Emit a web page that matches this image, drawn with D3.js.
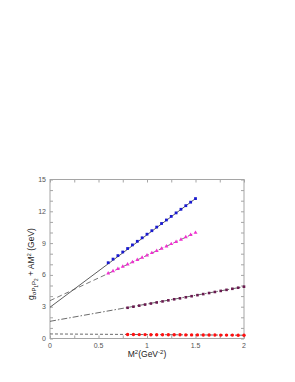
<!DOCTYPE html>
<html>
<head>
<meta charset="utf-8">
<script src="https://cdn.jsdelivr.net/npm/d3@7"></script>
<style>
  body { margin: 0; background: #fff; }
  text { font-family: "Liberation Sans", Arial, sans-serif; }
</style>
</head>
<body>
<div id="chart"></div>
<script>
// data
var xBlue = [0.6, 0.65, 0.7, 0.75, 0.8, 0.85, 0.9, 0.95, 1.0, 1.05, 1.1, 1.15, 1.2, 1.25, 1.3, 1.35, 1.4, 1.45, 1.5];
var yBlue = [7.15, 7.49, 7.82, 8.16, 8.49, 8.83, 9.17, 9.50, 9.84, 10.17, 10.51, 10.85, 11.18, 11.52, 11.85, 12.19, 12.53, 12.86, 13.2];
var yPink = [6.15, 6.36, 6.58, 6.79, 7.00, 7.21, 7.43, 7.64, 7.85, 8.07, 8.28, 8.49, 8.70, 8.92, 9.13, 9.34, 9.56, 9.77, 9.98];

var xLow = [0.8, 0.86, 0.92, 0.98, 1.04, 1.1, 1.16, 1.22, 1.28, 1.34, 1.4, 1.46, 1.52, 1.58, 1.64, 1.7, 1.76, 1.82, 1.88, 1.94, 2.0];
var yPurple = [2.90, 3.00, 3.10, 3.20, 3.30, 3.40, 3.50, 3.60, 3.70, 3.79, 3.89, 3.99, 4.09, 4.19, 4.29, 4.39, 4.49, 4.59, 4.69, 4.79, 4.89];
var yRed = [0.38, 0.38, 0.37, 0.37, 0.36, 0.36, 0.36, 0.35, 0.35, 0.35, 0.34, 0.34, 0.34, 0.33, 0.33, 0.33, 0.32, 0.32, 0.32, 0.31, 0.31];

// fit lines: [x0, y0, x1, y1]
var fitBlue = [0, 2.95, 1.5, 13.2];
var fitPink = [0, 3.57, 1.5, 9.98];
var fitPurple = [0, 1.62, 2.0, 4.89];
var fitRed = [0, 0.43, 2.0, 0.31];

var xTicks = [0, 0.5, 1, 1.5, 2];
var yTicks = [0, 3, 6, 9, 12, 15];

var margin = {top: 179.5, left: 50, right: 51, bottom: 43.5},
    width = 295, height = 382;

var svg = d3.select("#chart").append("svg")
    .attr("width", width)
    .attr("height", height);

var x = d3.scaleLinear().domain([0, 2]).range([margin.left, width - margin.right]);
var y = d3.scaleLinear().domain([0, 15]).range([height - margin.bottom, margin.top]);

var frameColor = "#a5a5a5";

// axes with inward ticks
var minorX = d3.range(0, 2.001, 0.25);
var minorY = d3.range(0, 15.001, 1);

svg.append("g")
    .attr("transform", "translate(0," + y(0) + ")")
    .call(d3.axisBottom(x).tickValues(minorX).tickSize(-3).tickFormat(""))
    .call(g => g.select(".domain").remove())
    .call(g => g.selectAll("line").attr("stroke", frameColor));
svg.append("g")
    .attr("transform", "translate(0," + y(15) + ")")
    .call(d3.axisTop(x).tickValues(minorX).tickSize(-3).tickFormat(""))
    .call(g => g.select(".domain").remove())
    .call(g => g.selectAll("line").attr("stroke", frameColor));
svg.append("g")
    .attr("transform", "translate(" + x(0) + ",0)")
    .call(d3.axisLeft(y).tickValues(minorY).tickSize(-3).tickFormat(""))
    .call(g => g.select(".domain").remove())
    .call(g => g.selectAll("line").attr("stroke", frameColor));
svg.append("g")
    .attr("transform", "translate(" + x(2) + ",0)")
    .call(d3.axisRight(y).tickValues(minorY).tickSize(-3).tickFormat(""))
    .call(g => g.select(".domain").remove())
    .call(g => g.selectAll("line").attr("stroke", frameColor));

svg.append("rect")
    .attr("x", x(0)).attr("y", y(15))
    .attr("width", x(2) - x(0)).attr("height", y(0) - y(15))
    .attr("fill", "none").attr("stroke", frameColor).attr("stroke-width", 1);

// tick labels
svg.selectAll(".xlab").data(xTicks).enter().append("text")
    .attr("x", d => x(d)).attr("y", y(0) + 9)
    .attr("text-anchor", "middle")
    .attr("font-size", 7).attr("fill", "#555")
    .text(d => d);
svg.selectAll(".ylab").data(yTicks).enter().append("text")
    .attr("x", x(0) - 4).attr("y", d => y(d) + 2.5)
    .attr("text-anchor", "end")
    .attr("font-size", 7).attr("fill", "#555")
    .text(d => d);

// axis titles
svg.append("text")
    .attr("x", x(1)).attr("y", y(0) + 18)
    .attr("text-anchor", "middle")
    .attr("font-size", 8.5).attr("fill", "#222")
    .html("M<tspan dy='-3' font-size='6'>2</tspan><tspan dy='3'>(GeV</tspan><tspan dy='-3' font-size='6'>-2</tspan><tspan dy='3'>)</tspan>");

svg.append("text")
    .attr("transform", "translate(34," + 264 + ") rotate(-90)")
    .attr("text-anchor", "middle")
    .attr("font-size", 8.5).attr("fill", "#222")
    .html("g<tspan dy='2' font-size='6'>σP</tspan><tspan dy='1.5' font-size='4.5'>1</tspan><tspan dy='-1.5' font-size='6'>P</tspan><tspan dy='1.5' font-size='4.5'>2</tspan><tspan dy='-3.5'> + AM</tspan><tspan dy='-3' font-size='6'>2</tspan><tspan dy='3'> (GeV)</tspan>");

// fit lines
var fits = [
    {f: fitBlue, dash: null, color: "#333"},
    {f: fitPink, dash: "5,3", color: "#555"},
    {f: fitPurple, dash: "6,2,1.5,2", color: "#444"},
    {f: fitRed, dash: "3,2", color: "#444"}
];
fits.forEach(function (d) {
    svg.append("line")
        .attr("x1", x(d.f[0])).attr("y1", y(d.f[1]))
        .attr("x2", x(d.f[2])).attr("y2", y(d.f[3]))
        .attr("stroke", d.color).attr("stroke-width", 0.8)
        .attr("stroke-dasharray", d.dash);
});

// points
svg.selectAll(".blue").data(xBlue).enter().append("rect")
    .attr("x", (d, i) => x(d) - 1.4).attr("y", (d, i) => y(yBlue[i]) - 1.4)
    .attr("width", 2.8).attr("height", 2.8)
    .attr("fill", "#1a1ad0");

var tri = d3.symbol().type(d3.symbolTriangle).size(7);
svg.selectAll(".pink").data(xBlue).enter().append("path")
    .attr("d", tri)
    .attr("transform", (d, i) => "translate(" + x(d) + "," + y(yPink[i]) + ")")
    .attr("fill", "#f030d0");

svg.selectAll(".purple").data(xLow).enter().append("rect")
    .attr("x", d => x(d) - 1.3).attr("y", (d, i) => y(yPurple[i]) - 1.3)
    .attr("width", 2.6).attr("height", 2.6)
    .attr("fill", "#6a1a50");

svg.selectAll(".red").data(xLow).enter().append("circle")
    .attr("cx", d => x(d)).attr("cy", (d, i) => y(yRed[i]))
    .attr("r", 1.7)
    .attr("fill", "#ff1010");
</script>
</body>
</html>
